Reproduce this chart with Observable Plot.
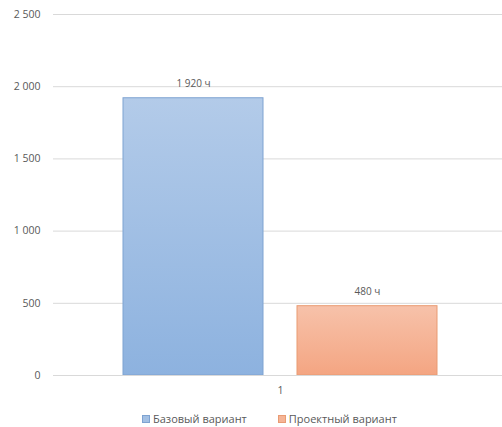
<!DOCTYPE html>
<html>
<head>
<meta charset="utf-8">
<script src="https://cdn.jsdelivr.net/npm/d3@7"></script>
<script src="https://cdn.jsdelivr.net/npm/@observablehq/plot@0.6"></script>
<style>
  body { margin: 0; background: #fff; font-family: "Open Sans", sans-serif; }
  #legend { display: flex; gap: 0; height: 17px; align-items: center; font-size: 11px; color: #595959; padding-left: 142px; }
  .item { display: flex; align-items: center; margin-right: 31px; }
  .sw { width: 8px; height: 8px; margin-right: 3px; box-sizing: border-box; }
</style>
</head>
<body>
<div id="chart"></div>
<div id="legend"></div>
<script>
const categories = ["1"];
const series = ["Базовый вариант", "Проектный вариант"];
const values = [1920, 480];
const yTicks = [0, 500, 1000, 1500, 2000, 2500];
const fills = ["url(#gBlue)", "url(#gOrange)"];
const strokes = ["#7ea3d1", "#e99b73"];
const swatch = ["#a3c0e4", "#f5b496"];

const data = series.map((s, i) => ({cat: categories[0], series: s, value: values[i]}));
const fmt = d => d3.format(",")(d).replace(/,/g, " ");

const chart = Plot.plot({
  width: 502,
  height: 410,
  marginLeft: 53,
  marginRight: -5,
  marginTop: 14,
  marginBottom: 35,
  style: {fontFamily: "'Open Sans', sans-serif", fontSize: "10px", color: "#595959", background: "#fff"},
  fx: {domain: categories, padding: 0, label: null, axis: null},
  x: {domain: series, paddingInner: 0.195, paddingOuter: 0.4, axis: null},
  y: {domain: [0, 2500], ticks: yTicks, label: null},
  marks: [
    Plot.gridY(yTicks, {stroke: "#d9d9d9", strokeOpacity: 1}),
    Plot.axisY(yTicks, {tickSize: 0, tickPadding: 13, tickFormat: fmt, fill: "#595959", fontSize: 10.5, label: null}),
    Plot.axisFx({anchor: "bottom", tickSize: 0, tickPadding: 11, fill: "#595959", fontSize: 10.5, label: null}),
    Plot.barY(data, {fx: "cat", x: "series", y: "value", fill: d => fills[series.indexOf(d.series)], stroke: d => strokes[series.indexOf(d.series)], strokeWidth: 1}),
    Plot.ruleY([0], {stroke: "#d9d9d9"}),
    Plot.text(data, {fx: "cat", x: "series", y: "value", text: d => fmt(d.value) + " ч", lineAnchor: "bottom", dy: -11, fill: "#595959", fontSize: 10})
  ]
});

const svg = d3.select(chart);
const defs = svg.insert("defs", ":first-child");
const gb = defs.append("linearGradient").attr("id", "gBlue").attr("x1", 0).attr("y1", 0).attr("x2", 0).attr("y2", 1);
gb.append("stop").attr("offset", "0%").attr("stop-color", "#b3cbe9");
gb.append("stop").attr("offset", "100%").attr("stop-color", "#8db2df");
const go = defs.append("linearGradient").attr("id", "gOrange").attr("x1", 0).attr("y1", 0).attr("x2", 0).attr("y2", 1);
go.append("stop").attr("offset", "0%").attr("stop-color", "#f7c2aa");
go.append("stop").attr("offset", "100%").attr("stop-color", "#f4a582");

document.getElementById("chart").appendChild(chart);

const legend = d3.select("#legend");
series.forEach((s, i) => {
  const it = legend.append("div").attr("class", "item");
  it.append("div").attr("class", "sw").style("background", swatch[i]).style("border", "1px solid " + strokes[i]);
  it.append("span").text(s);
});
</script>
</body>
</html>
